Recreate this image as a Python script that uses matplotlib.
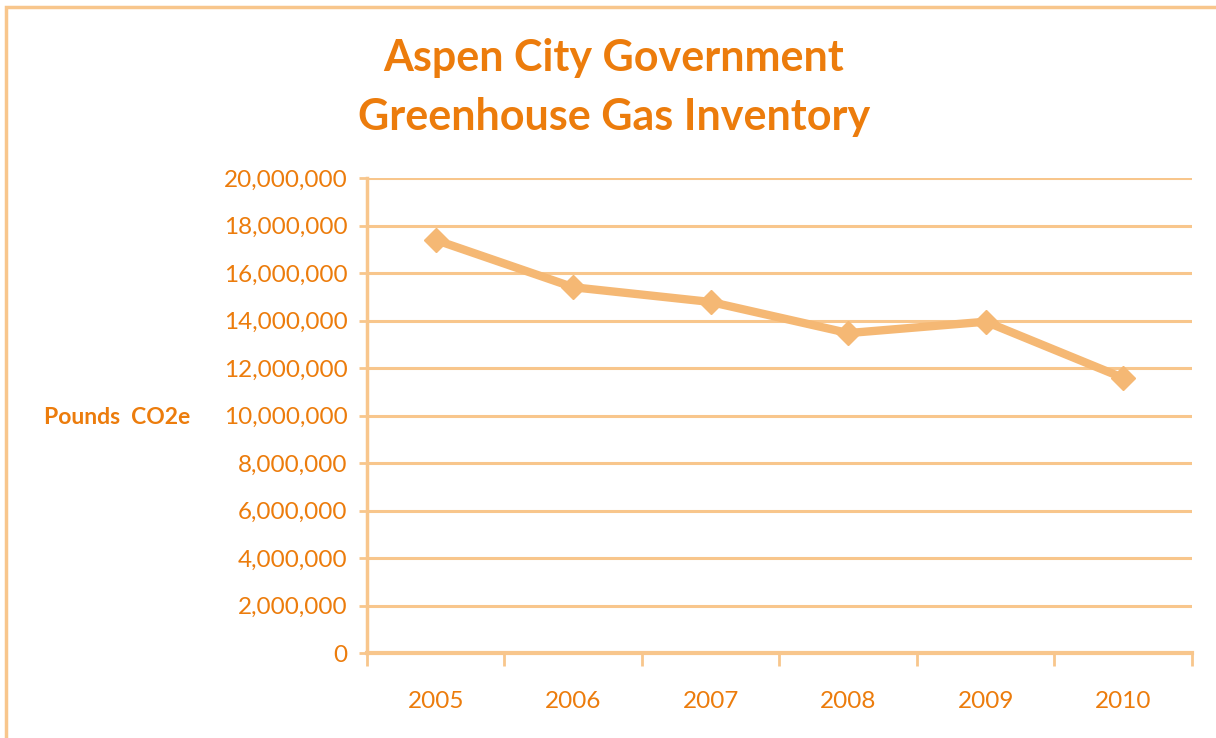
import matplotlib.pyplot as plt
from matplotlib.patches import Rectangle
from matplotlib.ticker import FuncFormatter

# Data
years = ["2005", "2006", "2007", "2008", "2009", "2010"]
pounds_co2e = [17390000, 15400000, 14780000, 13470000, 13950000, 11580000]
y_ticks = list(range(0, 20000001, 2000000))

title_color = "#EC7C0C"
label_color = "#EC7C0C"
line_color = "#F5B874"
grid_color = "#F8C68C"

plt.rcParams['font.family'] = ['Lato', 'DejaVu Sans']

fig = plt.figure(figsize=(12.16, 7.38), dpi=100)
ax = fig.add_axes([367 / 1216, 1 - 653 / 738, (1192 - 367) / 1216, (653 - 178) / 738])

x = list(range(len(years)))
ax.plot(x, pounds_co2e, color=line_color, linewidth=6, marker="D",
        markersize=12, markerfacecolor=line_color, markeredgecolor=line_color,
        solid_joinstyle="miter", zorder=3)

ax.set_xlim(-0.5, len(years) - 0.5)
ax.set_ylim(0, 20000000)
ax.set_yticks(y_ticks)
ax.yaxis.set_major_formatter(FuncFormatter(lambda v, p: f"{int(v):,}"))
ax.yaxis.grid(True, color=grid_color, linewidth=2.2)
ax.set_axisbelow(True)

# category labels in the middle, tick marks between categories
ax.set_xticks(x)
ax.set_xticklabels(years)
ax.set_xticks([i - 0.5 for i in range(len(years) + 1)], minor=True)
ax.tick_params(axis="x", which="major", length=0, pad=27, labelsize=17.5, labelcolor=label_color)
ax.tick_params(axis="x", which="minor", length=9, width=2, color=grid_color, direction="out")
ax.tick_params(axis="y", length=6, width=2, color=grid_color, labelsize=17.5,
               labelcolor=label_color, pad=8)

for side in ["top", "right"]:
    ax.spines[side].set_visible(False)
ax.spines["left"].set_color(grid_color)
ax.spines["left"].set_linewidth(2.5)
ax.spines["bottom"].set_color(grid_color)
ax.spines["bottom"].set_linewidth(3)

fig.text(117 / 1216, 1 - 418 / 738, "Pounds  CO2e", color=label_color, fontsize=16.5,
         fontweight="bold", ha="center", va="center")

fig.text(614 / 1216, 1 - 58 / 738, "Aspen City Government", color=title_color,
         fontsize=31, fontweight="bold", ha="center", va="center")
fig.text(614 / 1216, 1 - 117 / 738, "Greenhouse Gas Inventory", color=title_color,
         fontsize=31, fontweight="bold", ha="center", va="center")

# outer chart border
fig.patches.append(Rectangle((6 / 1216, -0.02), 1.05, 1 - 7 / 738 + 0.02,
                             transform=fig.transFigure, fill=False,
                             edgecolor=grid_color, linewidth=2.5))

fig.savefig("out.png", dpi=100)
